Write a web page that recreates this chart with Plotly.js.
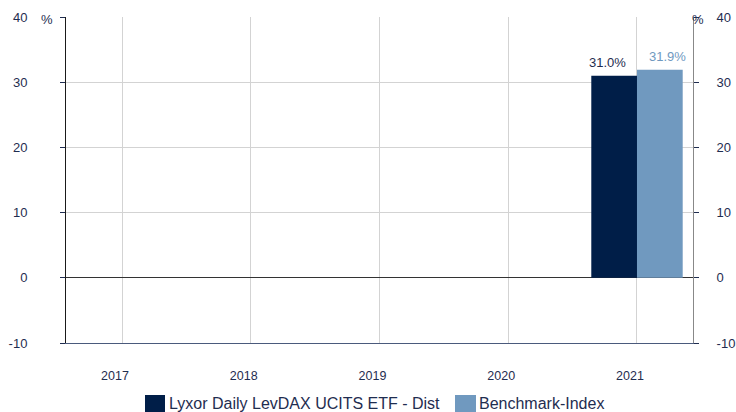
<!DOCTYPE html>
<html>
<head>
<meta charset="utf-8">
<script src="https://cdn.plot.ly/plotly-3.0.1.min.js"></script>
<style>html,body{margin:0;padding:0;background:#fff;}#chart{width:736px;height:412px;}</style>
</head>
<body>
<div id="chart"></div>
<script>
const years = ['2017', '2018', '2019', '2020', '2021'];
const fundName = 'Lyxor Daily LevDAX UCITS ETF - Dist';
const benchName = 'Benchmark-Index';
const fundValues = [null, null, null, null, 31.0];
const benchValues = [null, null, null, null, 31.9];
const yTicks = [-10, 0, 10, 20, 30, 40];
const yTickText = ['-10', '0', '10', '20', '30', '40'];

const darkCol = '#001e48';
const lightCol = '#7099bf';
const textCol = '#1f2d50';
const FONT = 'Liberation Sans, Arial';
const fmt = v => v.toFixed(1) + '%';

const traces = [
  {type: 'bar', name: fundName, x: years, y: fundValues, marker: {color: darkCol}, hoverinfo: 'none'},
  {type: 'bar', name: benchName, x: years, y: benchValues, marker: {color: lightCol}, hoverinfo: 'none'},
  {type: 'scatter', mode: 'none', x: [], y: [], yaxis: 'y2', showlegend: false, hoverinfo: 'none'}
];

const px = p => (p - 66) / 627;
const py = p => (343 - p) / 326;

const annotations = [];
const labelSpecs = [
  {vals: fundValues, col: textCol, dx: -29},
  {vals: benchValues, col: lightCol, dx: 31}
];
for (const spec of labelSpecs) {
  for (let i = 0; i < spec.vals.length; i++) {
    const v = spec.vals[i];
    if (v === null || v === undefined) continue;
    annotations.push({x: i, y: v, xref: 'x', yref: 'y', text: fmt(v), showarrow: false,
      xanchor: 'center', yanchor: 'middle', xshift: spec.dx, yshift: 13,
      font: {size: 13, color: spec.col, family: FONT}});
  }
}

const legendItems = [
  {name: fundName, color: darkCol, x0: 145, x1: 165, tx: 167},
  {name: benchName, color: lightCol, x0: 455, x1: 476, tx: 477}
];
const shapes = legendItems.map(it => ({type: 'rect', xref: 'paper', yref: 'paper',
  x0: px(it.x0), x1: px(it.x1), y0: py(395), y1: py(414), fillcolor: it.color, line: {width: 0}}));
legendItems.forEach(it => annotations.push({xref: 'paper', yref: 'paper', x: px(it.tx), y: py(403),
  xanchor: 'left', yanchor: 'middle', text: it.name, showarrow: false,
  font: {size: 16, color: textCol, family: FONT}}));
annotations.push({xref: 'paper', yref: 'paper', x: px(47), y: py(20), xanchor: 'center', yanchor: 'middle',
  text: '%', showarrow: false, font: {size: 13, color: textCol, family: FONT}});
annotations.push({xref: 'paper', yref: 'paper', x: px(698), y: py(20), xanchor: 'center', yanchor: 'middle',
  text: '%', showarrow: false, font: {size: 13, color: textCol, family: FONT}});

const layout = {
  width: 736, height: 412,
  margin: {l: 66, r: 43, t: 17, b: 69, pad: 0},
  paper_bgcolor: '#fff', plot_bgcolor: '#fff',
  showlegend: false,
  barmode: 'group', bargap: 0.29, bargroupgap: 0,
  font: {family: FONT, color: textCol, size: 13},
  xaxis: {type: 'category', range: [-0.435, 4.435], showgrid: true, gridcolor: '#d3d3d3', gridwidth: 1,
    ticks: '', showline: true, linecolor: '#4a5a7c', linewidth: 1, zeroline: false,
    tickfont: {size: 12.5, color: textCol}, ticklabelstandoff: 21, ticklabelshift: -7, fixedrange: true},
  yaxis: {range: [-10, 40], tickvals: yTicks, ticktext: yTickText, showgrid: true, gridcolor: '#d3d3d3', gridwidth: 1,
    zeroline: true, zerolinecolor: '#333333', zerolinewidth: 1,
    showline: true, linecolor: '#1a1a1a', linewidth: 1, ticks: 'outside', ticklen: 5, tickcolor: '#1f2d50',
    tickfont: {size: 13, color: textCol}, ticklabelstandoff: 30, fixedrange: true},
  yaxis2: {range: [-10, 40], tickvals: yTicks, ticktext: yTickText, overlaying: 'y', side: 'right', showgrid: false, zeroline: false,
    showline: true, linecolor: '#888888', linewidth: 1, ticks: 'outside', ticklen: 5, tickcolor: '#1f2d50',
    tickfont: {size: 13, color: textCol}, ticklabelstandoff: 15, fixedrange: true},
  shapes: shapes,
  annotations: annotations
};

Plotly.newPlot('chart', traces, layout, {staticPlot: true, displayModeBar: false});
</script>
</body>
</html>
